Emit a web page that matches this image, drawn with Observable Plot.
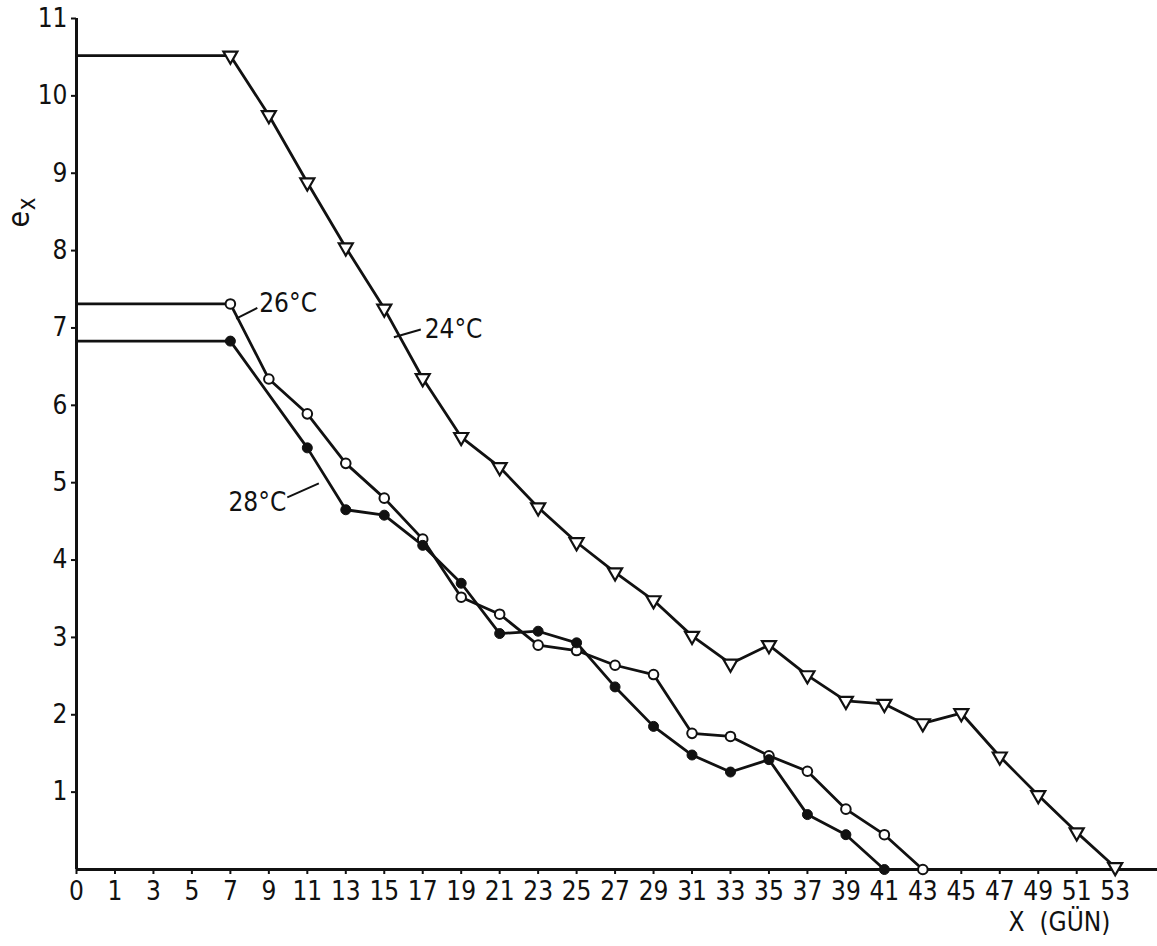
<!DOCTYPE html>
<html>
<head>
<meta charset="utf-8">
<script src="https://cdn.jsdelivr.net/npm/d3@7"></script>
<script src="https://cdn.jsdelivr.net/npm/@observablehq/plot@0.6"></script>
<style>
  html, body { margin: 0; padding: 0; background: #ffffff; }
  #chart { width: 1157px; height: 946px; }
</style>
</head>
<body>
<div id="chart"></div>
<script>
// ---- tick labels ----
const tickDays = [0, 1, 3, 5, 7, 9, 11, 13, 15, 17, 19, 21, 23, 25, 27, 29, 31, 33, 35, 37, 39, 41, 43, 45, 47, 49, 51, 53];
const yTicks = [1, 2, 3, 4, 5, 6, 7, 8, 9, 10, 11];

// ---- series: 24 °C (open triangles) ----
const days24 = [0, 7, 9, 11, 13, 15, 17, 19, 21, 23, 25, 27, 29, 31, 33, 35, 37, 39, 41, 43, 45, 47, 49, 51, 53];
const ex24   = [10.52, 10.52, 9.75, 8.88, 8.04, 7.25, 6.35, 5.59, 5.20, 4.68, 4.23, 3.84, 3.48, 3.02, 2.66, 2.90, 2.51, 2.18, 2.14, 1.89, 2.02, 1.46, 0.96, 0.48, 0.03];

// ---- series: 26 °C (open circles) ----
const days26 = [0, 7, 9, 11, 13, 15, 17, 19, 21, 23, 25, 27, 29, 31, 33, 35, 37, 39, 41, 43];
const ex26   = [7.31, 7.31, 6.34, 5.89, 5.25, 4.80, 4.27, 3.52, 3.30, 2.90, 2.83, 2.64, 2.52, 1.76, 1.72, 1.47, 1.27, 0.78, 0.45, 0.0];

// ---- series: 28 °C (filled circles) ----
const days28 = [0, 7, 11, 13, 15, 17, 19, 21, 23, 25, 27, 29, 31, 33, 35, 37, 39, 41];
const ex28   = [6.83, 6.83, 5.45, 4.65, 4.58, 4.19, 3.70, 3.05, 3.08, 2.93, 2.36, 1.85, 1.48, 1.26, 1.42, 0.71, 0.45, 0.0];

// ---- annotation labels (in day / e_x units) ----
const labelNames = ["26°C", "24°C", "28°C"];
const labelDay   = [8.5, 17.1, 6.9];
const labelEx    = [7.31, 6.98, 4.74];
const leaderDay1 = [7.3, 15.5, 9.96];
const leaderEx1  = [7.12, 6.88, 4.81];
const leaderDay2 = [8.4, 16.9, 11.6];
const leaderEx2  = [7.26, 6.98, 4.99];

const yTitleMain = "e";
const yTitleSub = "x";
const xTitle = "X\u00a0\u00a0(GÜN)";

// day -> position along the (equally spaced) tick sequence
const dayToIdx = d => d <= 1 ? d : (d + 1) / 2;
const idxToDay = i => i <= 1 ? i : 2 * i - 1;

const rows = [];
days24.forEach((d, i) => rows.push({series: "24", day: d, ex: ex24[i]}));
days26.forEach((d, i) => rows.push({series: "26", day: d, ex: ex26[i]}));
days28.forEach((d, i) => rows.push({series: "28", day: d, ex: ex28[i]}));
const pts = rows.filter(r => r.day > 0);

const labels = labelNames.map((t, i) => ({t, day: labelDay[i], ex: labelEx[i]}));
const leaders = labelNames.map((t, i) => ({d1: leaderDay1[i], e1: leaderEx1[i], d2: leaderDay2[i], e2: leaderEx2[i]}));

const FONT = "'Liberation Sans Narrow', 'DejaVu Sans Condensed', 'Roboto', 'DejaVu Sans', sans-serif";
const INK = "#111";

const chart = Plot.plot({
  width: 1157,
  height: 946,
  marginLeft: 76,
  marginRight: 0,
  marginTop: 18,
  marginBottom: 77,
  style: {fontFamily: FONT, fontSize: "26px", color: INK, background: "#ffffff", overflow: "visible"},
  x: {type: "linear", domain: [0, 28.1]},
  y: {type: "linear", domain: [0, 11]},
  marks: [
    Plot.axisX(tickDays.map(dayToIdx), {
      tickFormat: i => String(idxToDay(i)),
      tickSize: 5, tickPadding: 7, strokeWidth: 2, label: null, fontSize: 26
    }),
    Plot.axisY(yTicks, {
      tickFormat: d => String(d),
      tickSize: 5, tickPadding: 4, strokeWidth: 2, label: null, fontSize: 26
    }),
    Plot.ruleY([0], {stroke: INK, strokeWidth: 3}),
    Plot.ruleX([0], {stroke: INK, strokeWidth: 3}),
    Plot.line(rows, {x: r => dayToIdx(r.day), y: "ex", z: "series", stroke: INK, strokeWidth: 2.8}),
    Plot.dot(pts.filter(r => r.series === "24"), {
      x: r => dayToIdx(r.day), y: "ex", symbol: "triangle", rotate: 180, r: 5.2,
      fill: "#fff", stroke: INK, strokeWidth: 2.2
    }),
    Plot.dot(pts.filter(r => r.series === "26"), {
      x: r => dayToIdx(r.day), y: "ex", r: 4.8, fill: "#fff", stroke: INK, strokeWidth: 2
    }),
    Plot.dot(pts.filter(r => r.series === "28"), {
      x: r => dayToIdx(r.day), y: "ex", r: 5, fill: INK, stroke: INK, strokeWidth: 1
    }),
    Plot.link(leaders, {
      x1: l => dayToIdx(l.d1), y1: "e1", x2: l => dayToIdx(l.d2), y2: "e2",
      stroke: INK, strokeWidth: 2
    }),
    Plot.text(labels, {
      x: l => dayToIdx(l.day), y: "ex", text: "t", textAnchor: "start",
      fontSize: 26, fill: INK
    }),
    Plot.text([{t: yTitleMain, v: 8.3}], {
      y: "v", text: "t", frameAnchor: "left", dx: -57, rotate: -90, fontSize: 30, fill: INK
    }),
    Plot.text([{t: yTitleSub, v: 8.52}], {
      y: "v", text: "t", frameAnchor: "left", dx: -49, rotate: -90, fontSize: 24, fill: INK
    }),
    Plot.text([xTitle], {
      frameAnchor: "bottom-right", dx: -47, dy: 61, textAnchor: "end", fontSize: 26, fill: INK
    })
  ]
});

document.getElementById("chart").appendChild(chart);
</script>
</body>
</html>
